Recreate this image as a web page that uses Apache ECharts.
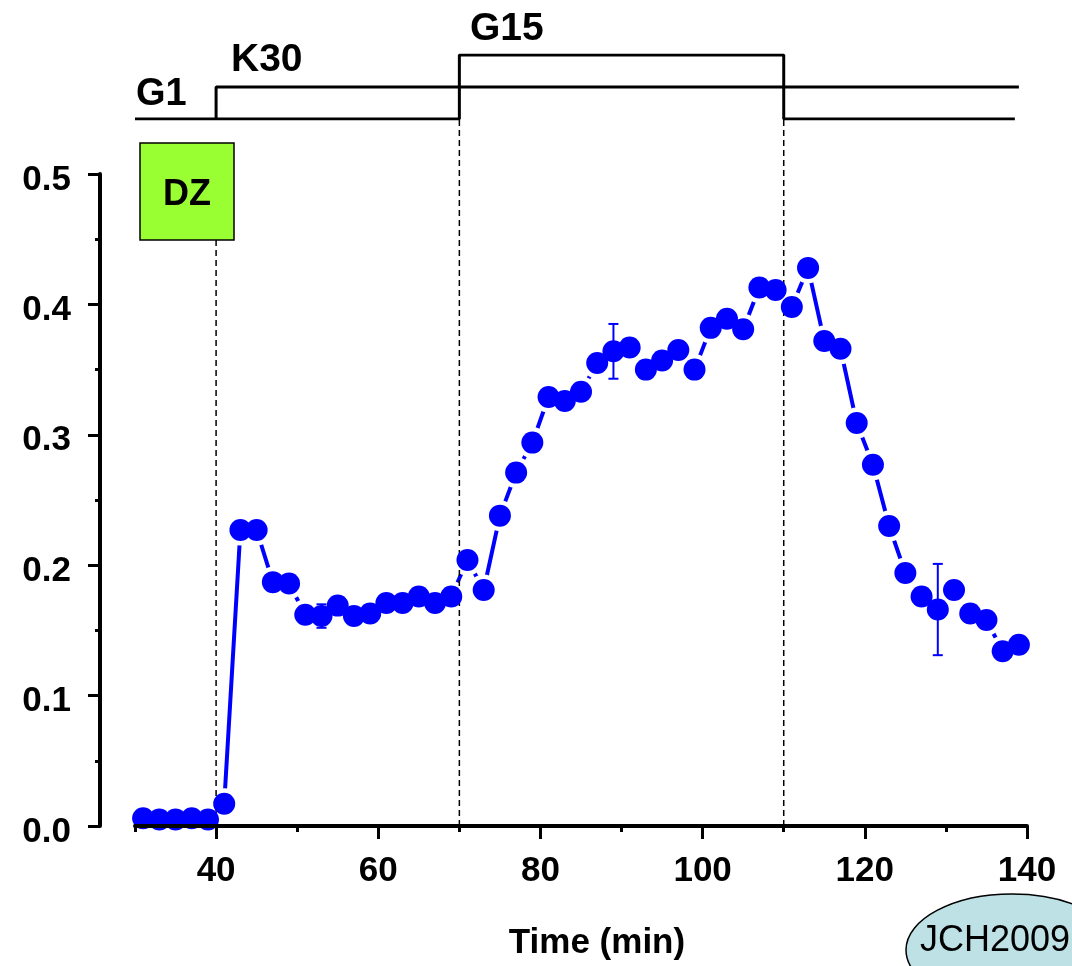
<!DOCTYPE html>
<html>
<head>
<meta charset="utf-8">
<script src="https://cdn.jsdelivr.net/npm/echarts@6/dist/echarts.min.js"></script>
<style>
  html, body { margin: 0; padding: 0; background: #ffffff; }
  #chart { width: 1072px; height: 966px; }
</style>
</head>
<body>
<div id="chart"></div>
<script>
// Sampling times (min) and mean response at each time
const times = [31, 33, 35, 37, 39, 41, 43, 45, 47, 49, 51, 53, 55, 57, 59, 61, 63, 65, 67, 69,
               71, 73, 75, 77, 79, 81, 83, 85, 87, 89, 91, 93, 95, 97, 99, 101, 103, 105, 107, 109,
               111, 113, 115, 117, 119, 121, 123, 125, 127, 129, 131, 133, 135, 137, 139];
const responses = [0.006, 0.005, 0.005, 0.006, 0.005, 0.017, 0.227, 0.227, 0.187, 0.186,
                   0.162, 0.161, 0.169, 0.161, 0.163, 0.171, 0.171, 0.176, 0.171, 0.176,
                   0.204, 0.181, 0.238, 0.271, 0.294, 0.329, 0.326, 0.333, 0.355, 0.364,
                   0.367, 0.350, 0.357, 0.365, 0.350, 0.382, 0.389, 0.381, 0.413, 0.411,
                   0.398, 0.428, 0.372, 0.366, 0.309, 0.277, 0.230, 0.194, 0.176, 0.166,
                   0.181, 0.163, 0.158, 0.134, 0.139];

// Representative error bars (± half-width)
const errorTimes = [53, 89, 129];
const errorHalfWidths = [0.009, 0.021, 0.035];

// Axis ticks
const majorTimeTicks = [40, 60, 80, 100, 120, 140];
const minorTimeTicks = [30, 50, 70, 90, 110, 130];

// Perfusion protocol: 0 = baseline, 1 = KCl 30 mM, 2 = glucose 15 mM
const glucoseTimes = [30, 70, 70, 110, 110, 138.5];
const glucoseStates = [0, 0, 2, 2, 0, 0];
const kclTimes = [40, 40, 139];
const kclStates = [0, 1, 1];
const solutionSwitchTimes = [40, 70, 110];
const protocolLabels = ['G1', 'K30', 'G15'];

const FONT = '"Liberation Sans", Arial, sans-serif';
const BLUE = '#0000ff';
const PLOT_LEFT = 135, PLOT_RIGHT = 45, PLOT_TOP = 174, PLOT_BOTTOM = 140;
const PROTO_TOP = 55, PROTO_HEIGHT = 64;
const DZ_BOX = { x: 140, y: 143, w: 94, h: 97 };

const points = times.map((t, i) => [t, responses[i]]);
const errorData = errorTimes.map((t, i) => [t, responses[times.indexOf(t)], errorHalfWidths[i]]);

const chart = echarts.init(document.getElementById('chart'), null, { renderer: 'canvas' });

chart.setOption({
  animation: false,
  backgroundColor: '#ffffff',
  grid: [
    { left: PLOT_LEFT, right: PLOT_RIGHT, top: PLOT_TOP, bottom: PLOT_BOTTOM },
    { left: PLOT_LEFT, right: PLOT_RIGHT, top: PROTO_TOP, height: PROTO_HEIGHT }
  ],
  xAxis: [
    {
      type: 'value', gridIndex: 0, position: 'bottom', min: 30, max: 140, z: 10,
      axisLine: { onZero: false, lineStyle: { color: '#000', width: 4 } },
      axisTick: { show: true, customValues: majorTimeTicks, length: 13, lineStyle: { color: '#000', width: 3 } },
      axisLabel: {
        customValues: majorTimeTicks, margin: 28, color: '#000',
        fontSize: 35, fontWeight: 'bold', fontFamily: FONT
      },
      splitLine: { show: false },
      name: 'Time (min)', nameLocation: 'middle', nameGap: 100,
      nameTextStyle: { color: '#000', fontSize: 35, fontWeight: 'bold', fontFamily: FONT, padding: [0, 0, 0, 32] }
    },
    {
      type: 'value', gridIndex: 0, position: 'bottom', min: 30, max: 140, z: 10,
      axisLine: { show: false },
      axisTick: { show: true, customValues: minorTimeTicks, length: 6, lineStyle: { color: '#000', width: 3 } },
      axisLabel: { show: false },
      splitLine: { show: false }
    },
    {
      type: 'value', gridIndex: 1, min: 30, max: 140, show: false
    }
  ],
  yAxis: [
    {
      type: 'value', gridIndex: 0, min: 0, max: 0.5, interval: 0.1, offset: 35, z: 10,
      axisLine: { show: true, lineStyle: { color: '#000', width: 4 } },
      axisTick: { show: true, length: 12, lineStyle: { color: '#000', width: 3 } },
      minorTick: { show: true, splitNumber: 2, length: 5, lineStyle: { color: '#000', width: 3 } },
      axisLabel: {
        margin: 29, color: '#000', fontSize: 35, fontWeight: 'bold', fontFamily: FONT,
        verticalAlign: 'top', lineHeight: 12,
        formatter: v => v.toFixed(1)
      },
      splitLine: { show: false }
    },
    {
      type: 'value', gridIndex: 1, min: 0, max: 2, show: false
    }
  ],
  series: [
    {
      // connecting line
      type: 'line', xAxisIndex: 0, yAxisIndex: 0, data: points, z: 2,
      symbol: 'none', silent: true,
      lineStyle: { color: BLUE, width: 4 }
    },
    {
      // white gap around each marker
      type: 'scatter', xAxisIndex: 0, yAxisIndex: 0, data: points, z: 3,
      symbolSize: 31, silent: true,
      itemStyle: { color: '#ffffff', opacity: 1 }
    },
    {
      // solution switch guides
      type: 'custom', xAxisIndex: 0, yAxisIndex: 0, z: 4, silent: true,
      data: solutionSwitchTimes.map(t => [t, 0]),
      renderItem: (params, api) => {
        const t = api.value(0);
        const base = api.coord([t, 0]);
        const topY = (t === solutionSwitchTimes[0]) ? DZ_BOX.y + DZ_BOX.h : PROTO_TOP + PROTO_HEIGHT;
        return {
          type: 'line',
          shape: { x1: base[0], y1: base[1], x2: base[0], y2: topY },
          style: { stroke: '#000', lineWidth: 1.5, lineDash: [6, 4] }
        };
      }
    },
    {
      // error bars
      type: 'custom', xAxisIndex: 0, yAxisIndex: 0, z: 5, silent: true,
      data: errorData,
      renderItem: (params, api) => {
        const t = api.value(0), m = api.value(1), e = api.value(2);
        const hi = api.coord([t, m + e]);
        const lo = api.coord([t, m - e]);
        const cap = 5;
        const st = { stroke: BLUE, lineWidth: 2 };
        return {
          type: 'group',
          children: [
            { type: 'line', shape: { x1: hi[0], y1: hi[1], x2: lo[0], y2: lo[1] }, style: st },
            { type: 'line', shape: { x1: hi[0] - cap, y1: hi[1], x2: hi[0] + cap, y2: hi[1] }, style: st },
            { type: 'line', shape: { x1: lo[0] - cap, y1: lo[1], x2: lo[0] + cap, y2: lo[1] }, style: st }
          ]
        };
      }
    },
    {
      // markers
      type: 'scatter', xAxisIndex: 0, yAxisIndex: 0, data: points, z: 6,
      symbolSize: 22, silent: true,
      itemStyle: { color: BLUE, opacity: 1 }
    },
    {
      // glucose protocol trace
      type: 'line', xAxisIndex: 2, yAxisIndex: 1, z: 2, symbol: 'none', silent: true,
      data: glucoseTimes.map((t, i) => [t, glucoseStates[i]]),
      lineStyle: { color: '#000', width: 3 }
    },
    {
      // KCl protocol trace
      type: 'line', xAxisIndex: 2, yAxisIndex: 1, z: 2, symbol: 'none', silent: true,
      data: kclTimes.map((t, i) => [t, kclStates[i]]),
      lineStyle: { color: '#000', width: 3 }
    }
  ],
  graphic: [
    { type: 'text', x: 136, y: 95, z: 20,
      style: { text: protocolLabels[0], font: 'bold 38px ' + FONT, fill: '#000', align: 'left', verticalAlign: 'middle' } },
    { type: 'text', x: 231, y: 60, z: 20,
      style: { text: protocolLabels[1], font: 'bold 39px ' + FONT, fill: '#000', align: 'left', verticalAlign: 'middle' } },
    { type: 'text', x: 470, y: 29, z: 20,
      style: { text: protocolLabels[2], font: 'bold 39px ' + FONT, fill: '#000', align: 'left', verticalAlign: 'middle' } },
    { type: 'rect', x: DZ_BOX.x, y: DZ_BOX.y, z: 20,
      shape: { width: DZ_BOX.w, height: DZ_BOX.h },
      style: { fill: '#99ff33', stroke: '#000', lineWidth: 1.5 } },
    { type: 'text', x: DZ_BOX.x + DZ_BOX.w / 2, y: DZ_BOX.y + DZ_BOX.h / 2 + 4, z: 21,
      style: { text: 'DZ', font: 'bold 36px ' + FONT, fill: '#000', align: 'center', verticalAlign: 'middle' } },
    { type: 'ellipse', x: 0, y: 0, z: 20,
      shape: { cx: 1012, cy: 950, rx: 106, ry: 56 },
      style: { fill: '#bde1e4', stroke: '#000', lineWidth: 1.5 } },
    { type: 'text', x: 920, y: 941, z: 21,
      style: { text: 'JCH2009', font: '36px ' + FONT, fill: '#000', align: 'left', verticalAlign: 'middle' } }
  ]
});
</script>
</body>
</html>
